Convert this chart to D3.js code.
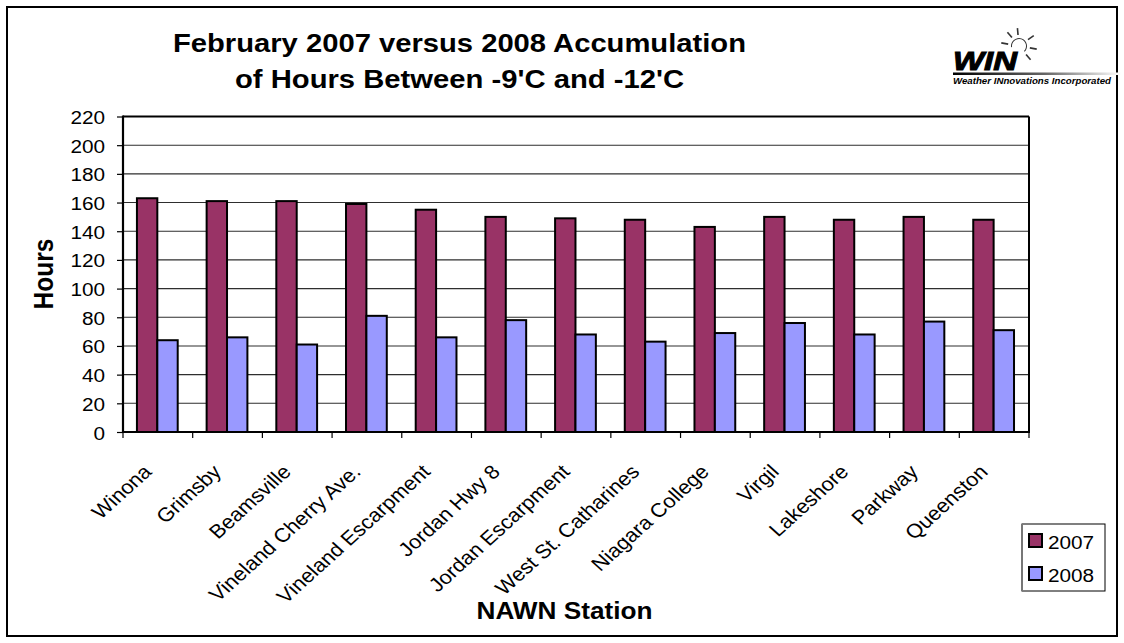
<!DOCTYPE html>
<html><head><meta charset="utf-8">
<script src="https://cdn.jsdelivr.net/npm/d3@7"></script>
<style>
body{margin:0;background:#fff}
svg{display:block}
text{font-family:"Liberation Sans",Arial,Helvetica,sans-serif;fill:#000}
</style>
</head><body>
<svg id="chart" width="1124" height="643"></svg>
<script>
// ---------- data ----------
const categories = ["Winona","Grimsby","Beamsville","Vineland Cherry Ave.","Vineland Escarpment","Jordan Hwy 8","Jordan Escarpment","West St. Catharines","Niagara College","Virgil","Lakeshore","Parkway","Queenston"];
const seriesNames = ["2007","2008"];
const values2007 = [163,161,161,159,155,150,149,148,143,150,148,150,148];
const values2008 = [64,66,61,81,66,78,68,63,69,76,68,77,71];
const yTicks = [0,20,40,60,80,100,120,140,160,180,200,220];
const seriesColors = ["#993366","#9999FF"];
const titleLines = ["February 2007 versus 2008 Accumulation","of Hours Between -9'C and -12'C"];
const yTitle = "Hours";
const xTitle = "NAWN Station";
const logoText = "WIN";
const logoSub = "Weather INnovations Incorporated";

// ---------- layout ----------
const W = 1124, H = 643;
const L = 123, R = 1029, T = 116.5, B = 432;
const SX = 1.11; // horizontal stretch of the original picture
const svg = d3.select("#chart");

svg.append("rect").attr("x",0).attr("y",0).attr("width",W).attr("height",H).attr("fill","#fff");
svg.append("rect").attr("x",7).attr("y",7).attr("width",1110).attr("height",629)
  .attr("fill","none").attr("stroke","#000").attr("stroke-width",2);

const x0 = d3.scaleBand().domain(categories).range([L,R]).padding(0);
const bw = x0.bandwidth();
const x1 = d3.scaleBand().domain(seriesNames).range([bw*0.2, bw*0.785]).padding(0);
const y = d3.scaleLinear().domain([0,220]).range([B,T]);
const color = d3.scaleOrdinal().domain(seriesNames).range(seriesColors);

// gridlines
svg.append("g").selectAll("line").data(yTicks.filter(v=>v>0 && v<220)).join("line")
  .attr("x1",L).attr("x2",R).attr("y1",d=>y(d)).attr("y2",d=>y(d))
  .attr("stroke","#2e2e2e").attr("stroke-width",1.1);

// y axis ticks + labels
const yAxis = d3.axisLeft(y).tickValues(yTicks).tickSize(6).tickSizeOuter(0);
const gy = svg.append("g").attr("transform",`translate(${L},0)`).call(yAxis);
gy.select(".domain").remove();
gy.selectAll(".tick line").attr("stroke","#000").attr("stroke-width",1.2);
gy.selectAll(".tick text")
  .attr("x",0).attr("dy",null).attr("text-anchor","end")
  .attr("font-size","18.7px").attr("font-family",'"Liberation Sans",Arial,sans-serif').attr("fill","#000")
  .attr("transform",`translate(-18,7) scale(${SX},1)`);

// bars
const rows = categories.map((c,i)=>({cat:c, vals:[{s:"2007",v:values2007[i]},{s:"2008",v:values2008[i]}]}));
const gBars = svg.append("g");
gBars.selectAll("g").data(rows).join("g")
  .attr("transform",d=>`translate(${x0(d.cat)},0)`)
  .selectAll("rect").data(d=>d.vals).join("rect")
  .attr("x",d=>x1(d.s)).attr("width",x1.bandwidth())
  .attr("y",d=>y(d.v)).attr("height",d=>B-y(d.v))
  .attr("fill",d=>color(d.s)).attr("stroke","#000").attr("stroke-width",2);

// plot frame
svg.append("line").attr("x1",L).attr("x2",R).attr("y1",T).attr("y2",T).attr("stroke","#000").attr("stroke-width",2);
svg.append("line").attr("x1",R).attr("x2",R).attr("y1",T).attr("y2",B).attr("stroke","#000").attr("stroke-width",2);
svg.append("line").attr("x1",L).attr("x2",L).attr("y1",T-1).attr("y2",B+1).attr("stroke","#000").attr("stroke-width",2.2);
svg.append("line").attr("x1",L-1).attr("x2",R+1).attr("y1",B).attr("y2",B).attr("stroke","#000").attr("stroke-width",2.2);

// x ticks at category boundaries
const bounds = categories.map(c=>x0(c)).concat([x0(categories[categories.length-1])+bw]);
svg.append("g").selectAll("line").data(bounds).join("line")
  .attr("x1",d=>d).attr("x2",d=>d).attr("y1",B).attr("y2",B+6)
  .attr("stroke","#000").attr("stroke-width",1.2);

// x labels (rotated)
svg.append("g").selectAll("text").data(categories).join("text")
  .attr("text-anchor","end").attr("font-size","19.6px")
  .attr("transform",d=>`translate(${x0(d)+bw/2-5},473) scale(${SX},1) rotate(-45)`)
  .text(d=>d);

// titles
const tl = svg.append("g").attr("font-weight","bold");
tl.append("text").attr("x",459.5).attr("y",52).attr("text-anchor","middle").attr("font-size","25.5px")
  .attr("textLength",573).attr("lengthAdjust","spacingAndGlyphs").text(titleLines[0]);
tl.append("text").attr("x",459.5).attr("y",88).attr("text-anchor","middle").attr("font-size","25.5px")
  .attr("textLength",449).attr("lengthAdjust","spacingAndGlyphs").text(titleLines[1]);

svg.append("text").attr("font-weight","bold").attr("font-size","24.5px").attr("text-anchor","middle")
  .attr("transform",`translate(53,274) scale(${SX},1) rotate(-90)`).text(yTitle);
svg.append("text").attr("font-weight","bold").attr("font-size","24.5px").attr("text-anchor","middle")
  .attr("x",564.5).attr("y",619).attr("textLength",176).attr("lengthAdjust","spacingAndGlyphs").text(xTitle);

// legend
const lg = svg.append("g");
lg.append("rect").attr("x",1022).attr("y",524).attr("width",83).attr("height",67)
  .attr("fill","#fff").attr("stroke","#000").attr("stroke-width",1);
lg.append("line").attr("x1",1022).attr("x2",1022).attr("y1",524).attr("y2",591).attr("stroke","#777").attr("stroke-width",2);
const ly = d3.scalePoint().domain(seriesNames).range([534,567]);
lg.selectAll("rect.sw").data(seriesNames).join("rect").attr("class","sw")
  .attr("x",1029).attr("y",d=>ly(d)).attr("width",13).attr("height",13)
  .attr("fill",d=>color(d)).attr("stroke","#000").attr("stroke-width",2);
lg.selectAll("text").data(seriesNames).join("text")
  .attr("font-size","18.7px")
  .attr("transform",d=>`translate(1048,${ly(d)+15}) scale(${SX},1)`).text(d=>d);

// logo
const logo = svg.append("g");
const defs = svg.append("defs");
const grad = defs.append("linearGradient").attr("id","lgGrad").attr("x1","0").attr("x2","1").attr("y1","0").attr("y2","0");
grad.append("stop").attr("offset","0").attr("stop-color","#000");
grad.append("stop").attr("offset","0.55").attr("stop-color","#666");
grad.append("stop").attr("offset","1").attr("stop-color","#fff");
logo.append("rect").attr("x",953).attr("y",72.5).attr("width",168).attr("height",2.5).attr("fill","url(#lgGrad)");
logo.append("text").attr("x",953).attr("y",70).attr("font-size","26px").attr("font-weight","bold").attr("font-style","italic")
  .attr("stroke","#000").attr("stroke-width",1)
  .attr("textLength",64).attr("lengthAdjust","spacingAndGlyphs").text(logoText);
logo.append("text").attr("x",953).attr("y",84).attr("font-size","9.5px").attr("font-weight","bold").attr("font-style","italic")
  .attr("textLength",158).attr("lengthAdjust","spacingAndGlyphs").text(logoSub);
const cx = 1019, cy = 46;
logo.append("path").attr("d",d3.arc()({innerRadius:7,outerRadius:8,startAngle:-Math.PI*0.55,endAngle:Math.PI*0.75}))
  .attr("transform",`translate(${cx},${cy})`).attr("fill","#333");
const rayAngles = [-80,-40,-5,55,100,140];
logo.selectAll("line.ray").data(rayAngles).join("line").attr("class","ray")
  .attr("x1",a=>cx+11*Math.sin(a*Math.PI/180)).attr("y1",a=>cy-11*Math.cos(a*Math.PI/180))
  .attr("x2",a=>cx+18*Math.sin(a*Math.PI/180)).attr("y2",a=>cy-18*Math.cos(a*Math.PI/180))
  .attr("stroke","#333").attr("stroke-width",1.6);
</script>
</body></html>
